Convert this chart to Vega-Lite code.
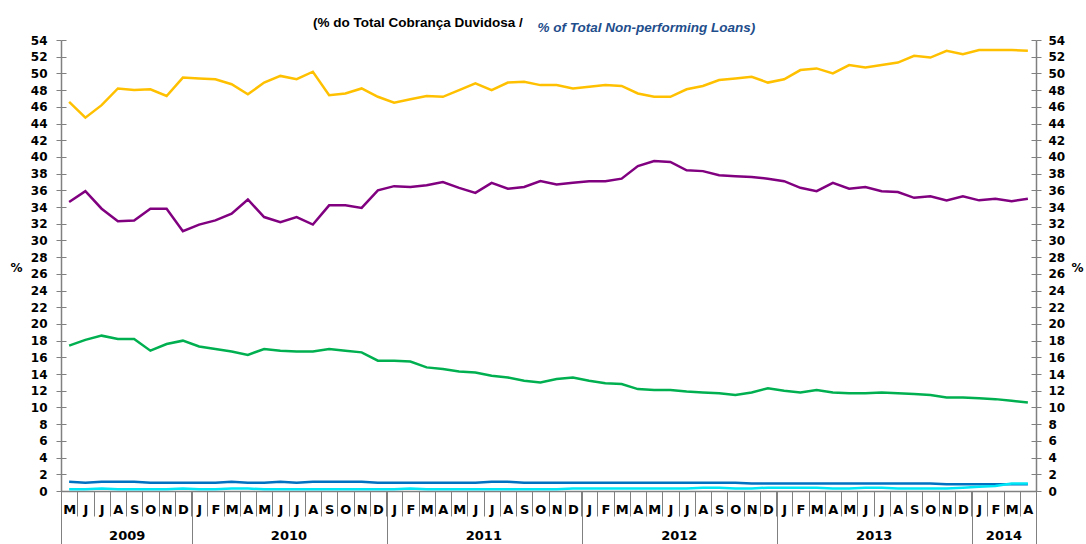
{
 "$schema": "https://vega.github.io/schema/vega-lite/v6.json",
 "width": 975,
 "height": 451,
 "autosize": "none",
 "padding": {"left": 61, "top": 40, "right": 50, "bottom": 53},
 "background": "white",
 "config": {
  "view": {"stroke": null},
  "font": "DejaVu Sans",
  "axis": {"labelFont": "DejaVu Sans", "labelFontWeight": "bold", "labelColor": "black", "domainColor": "#808080", "tickColor": "#808080", "grid": false, "titleColor": "black"}
 },
 "title": {"text": "(% do Total Cobrança Duvidosa  /", "anchor": "start", "frame": "group", "dx": 252, "offset": -9, "font": "Liberation Sans", "fontSize": 13.5, "fontWeight": "bold", "color": "black"},
 "datasets": {
  "loans": [
   {"t":"2009-05","s1":46.6,"s2":34.6,"s3":17.4,"s4":1.1,"s5":0.2},
   {"t":"2009-06","s1":44.7,"s2":35.9,"s3":18.1,"s4":1.0,"s5":0.2},
   {"t":"2009-07","s1":46.2,"s2":33.8,"s3":18.6,"s4":1.1,"s5":0.3},
   {"t":"2009-08","s1":48.2,"s2":32.3,"s3":18.2,"s4":1.1,"s5":0.2},
   {"t":"2009-09","s1":48.0,"s2":32.4,"s3":18.2,"s4":1.1,"s5":0.2},
   {"t":"2009-10","s1":48.1,"s2":33.8,"s3":16.8,"s4":1.0,"s5":0.2},
   {"t":"2009-11","s1":47.3,"s2":33.8,"s3":17.6,"s4":1.0,"s5":0.2},
   {"t":"2009-12","s1":49.5,"s2":31.1,"s3":18.0,"s4":1.0,"s5":0.3},
   {"t":"2010-01","s1":49.4,"s2":31.9,"s3":17.3,"s4":1.0,"s5":0.2},
   {"t":"2010-02","s1":49.3,"s2":32.4,"s3":17.0,"s4":1.0,"s5":0.2},
   {"t":"2010-03","s1":48.7,"s2":33.2,"s3":16.7,"s4":1.1,"s5":0.3},
   {"t":"2010-04","s1":47.5,"s2":34.9,"s3":16.3,"s4":1.0,"s5":0.3},
   {"t":"2010-05","s1":48.9,"s2":32.8,"s3":17.0,"s4":1.0,"s5":0.2},
   {"t":"2010-06","s1":49.7,"s2":32.2,"s3":16.8,"s4":1.1,"s5":0.2},
   {"t":"2010-07","s1":49.3,"s2":32.8,"s3":16.7,"s4":1.0,"s5":0.2},
   {"t":"2010-08","s1":50.2,"s2":31.9,"s3":16.7,"s4":1.1,"s5":0.2},
   {"t":"2010-09","s1":47.4,"s2":34.2,"s3":17.0,"s4":1.1,"s5":0.2},
   {"t":"2010-10","s1":47.6,"s2":34.2,"s3":16.8,"s4":1.1,"s5":0.2},
   {"t":"2010-11","s1":48.2,"s2":33.9,"s3":16.6,"s4":1.1,"s5":0.2},
   {"t":"2010-12","s1":47.2,"s2":36.0,"s3":15.6,"s4":1.0,"s5":0.2},
   {"t":"2011-01","s1":46.5,"s2":36.5,"s3":15.6,"s4":1.0,"s5":0.2},
   {"t":"2011-02","s1":46.9,"s2":36.4,"s3":15.5,"s4":1.0,"s5":0.3},
   {"t":"2011-03","s1":47.3,"s2":36.6,"s3":14.8,"s4":1.0,"s5":0.2},
   {"t":"2011-04","s1":47.2,"s2":37.0,"s3":14.6,"s4":1.0,"s5":0.2},
   {"t":"2011-05","s1":48.0,"s2":36.3,"s3":14.3,"s4":1.0,"s5":0.2},
   {"t":"2011-06","s1":48.8,"s2":35.7,"s3":14.2,"s4":1.0,"s5":0.2},
   {"t":"2011-07","s1":48.0,"s2":36.9,"s3":13.8,"s4":1.1,"s5":0.2},
   {"t":"2011-08","s1":48.9,"s2":36.2,"s3":13.6,"s4":1.1,"s5":0.2},
   {"t":"2011-09","s1":49.0,"s2":36.4,"s3":13.2,"s4":1.0,"s5":0.2},
   {"t":"2011-10","s1":48.6,"s2":37.1,"s3":13.0,"s4":1.0,"s5":0.2},
   {"t":"2011-11","s1":48.6,"s2":36.7,"s3":13.4,"s4":1.0,"s5":0.2},
   {"t":"2011-12","s1":48.2,"s2":36.9,"s3":13.6,"s4":1.0,"s5":0.3},
   {"t":"2012-01","s1":48.4,"s2":37.1,"s3":13.2,"s4":1.0,"s5":0.3},
   {"t":"2012-02","s1":48.6,"s2":37.1,"s3":12.9,"s4":1.0,"s5":0.3},
   {"t":"2012-03","s1":48.5,"s2":37.4,"s3":12.8,"s4":1.0,"s5":0.3},
   {"t":"2012-04","s1":47.6,"s2":38.9,"s3":12.2,"s4":1.0,"s5":0.3},
   {"t":"2012-05","s1":47.2,"s2":39.5,"s3":12.1,"s4":1.0,"s5":0.3},
   {"t":"2012-06","s1":47.2,"s2":39.4,"s3":12.1,"s4":1.0,"s5":0.3},
   {"t":"2012-07","s1":48.1,"s2":38.4,"s3":11.9,"s4":1.0,"s5":0.3},
   {"t":"2012-08","s1":48.5,"s2":38.3,"s3":11.8,"s4":1.0,"s5":0.4},
   {"t":"2012-09","s1":49.2,"s2":37.8,"s3":11.7,"s4":1.0,"s5":0.4},
   {"t":"2012-10","s1":49.4,"s2":37.7,"s3":11.5,"s4":1.0,"s5":0.3},
   {"t":"2012-11","s1":49.6,"s2":37.6,"s3":11.8,"s4":0.9,"s5":0.3},
   {"t":"2012-12","s1":48.9,"s2":37.4,"s3":12.3,"s4":0.9,"s5":0.4},
   {"t":"2013-01","s1":49.3,"s2":37.1,"s3":12.0,"s4":0.9,"s5":0.4},
   {"t":"2013-02","s1":50.4,"s2":36.3,"s3":11.8,"s4":0.9,"s5":0.4},
   {"t":"2013-03","s1":50.6,"s2":35.9,"s3":12.1,"s4":0.9,"s5":0.4},
   {"t":"2013-04","s1":50.0,"s2":36.9,"s3":11.8,"s4":0.9,"s5":0.3},
   {"t":"2013-05","s1":51.0,"s2":36.2,"s3":11.7,"s4":0.9,"s5":0.3},
   {"t":"2013-06","s1":50.7,"s2":36.4,"s3":11.7,"s4":0.9,"s5":0.4},
   {"t":"2013-07","s1":51.0,"s2":35.9,"s3":11.8,"s4":0.9,"s5":0.4},
   {"t":"2013-08","s1":51.3,"s2":35.8,"s3":11.7,"s4":0.9,"s5":0.3},
   {"t":"2013-09","s1":52.1,"s2":35.1,"s3":11.6,"s4":0.9,"s5":0.3},
   {"t":"2013-10","s1":51.9,"s2":35.3,"s3":11.5,"s4":0.9,"s5":0.3},
   {"t":"2013-11","s1":52.7,"s2":34.8,"s3":11.2,"s4":0.8,"s5":0.3},
   {"t":"2013-12","s1":52.3,"s2":35.3,"s3":11.2,"s4":0.8,"s5":0.4},
   {"t":"2014-01","s1":52.8,"s2":34.8,"s3":11.1,"s4":0.8,"s5":0.5},
   {"t":"2014-02","s1":52.8,"s2":35.0,"s3":11.0,"s4":0.8,"s5":0.6},
   {"t":"2014-03","s1":52.8,"s2":34.7,"s3":10.8,"s4":0.8,"s5":0.9},
   {"t":"2014-04","s1":52.7,"s2":35.0,"s3":10.6,"s4":0.8,"s5":0.9}
  ],
  "years": [
   {"year":"2009","start":"2009-05-01"},
   {"year":"2010","start":"2010-01-01"},
   {"year":"2011","start":"2011-01-01"},
   {"year":"2012","start":"2012-01-01"},
   {"year":"2013","start":"2013-01-01"},
   {"year":"2014","start":"2014-01-01"}
  ]
 },
 "layer": [
  {
   "data": {"name": "loans"},
   "transform": [{"fold": ["s1","s2","s3","s4","s5"], "as": ["series","value"]}],
   "mark": {"type": "line", "strokeWidth": 2.5},
   "encoding": {
    "x": {"field": "t", "type": "ordinal", "sort": null,
     "scale": {"type": "band", "paddingInner": 0, "paddingOuter": 0},
     "axis": {"orient": "bottom", "title": null, "labelAngle": 0,
      "labelExpr": "substring('JFMAMJJASOND', toNumber(substring(datum.value,5,7))-1, toNumber(substring(datum.value,5,7)))",
      "tickBand": "extent", "tickSize": 25, "tickWidth": 1, "labelPadding": -13, "labelFontSize": 13,
      "domainWidth": 1.5, "labelOverlap": false, "labelBound": false}},
    "y": {"field": "value", "type": "quantitative",
     "scale": {"domain": [0, 54], "nice": false, "zero": true},
     "axis": {"orient": "left", "values": [0,2,4,6,8,10,12,14,16,18,20,22,24,26,28,30,32,34,36,38,40,42,44,46,48,50,52,54],
      "title": "%", "titleAngle": 0, "titleX": -45, "titleY": 227, "titleAlign": "center", "titleBaseline": "middle",
      "titleFontWeight": "bold", "titleFontSize": 12, "titleFont": "DejaVu Sans",
      "tickSize": 5, "labelPadding": 9, "labelFontSize": 12, "domainWidth": 1.5}},
    "color": {"field": "series", "type": "nominal",
     "scale": {"domain": ["s1","s2","s3","s4","s5"], "range": ["#FFC000","#800080","#00B050","#0070C0","#00E8F8"]},
     "legend": null}
   }
  },
  {
   "data": {"name": "years"},
   "mark": {"type": "point", "opacity": 0},
   "encoding": {
    "x": {"field": "start", "type": "temporal",
     "scale": {"type": "utc", "nice": false, "domain": [{"year":2009,"month":5,"date":1,"utc":true},{"year":2014,"month":5,"date":1,"utc":true}]},
     "axis": {"orient": "bottom", "title": null, "labels": false, "domain": false, "tickSize": 53, "tickWidth": 1,
      "values": [{"year":2009,"month":5,"date":1,"utc":true},{"year":2010,"month":1,"date":1,"utc":true},{"year":2011,"month":1,"date":1,"utc":true},{"year":2012,"month":1,"date":1,"utc":true},{"year":2013,"month":1,"date":1,"utc":true},{"year":2014,"month":1,"date":1,"utc":true},{"year":2014,"month":5,"date":1,"utc":true}]}},
    "y": {"datum": 0, "type": "quantitative",
     "scale": {"domain": [0, 54], "nice": false},
     "axis": {"orient": "right", "values": [0,2,4,6,8,10,12,14,16,18,20,22,24,26,28,30,32,34,36,38,40,42,44,46,48,50,52,54],
      "title": "%", "titleAngle": 0, "titleX": 41, "titleY": 227, "titleAlign": "center", "titleBaseline": "middle",
      "titleFontWeight": "bold", "titleFontSize": 12, "titleFont": "DejaVu Sans",
      "tickSize": 5, "labelPadding": 7, "labelFontSize": 12, "domainWidth": 1.5}}
   }
  },
  {
   "data": {"name": "years"},
   "mark": {"type": "point", "opacity": 0},
   "encoding": {
    "x": {"field": "start", "type": "temporal",
     "scale": {"type": "utc", "nice": false, "domain": [{"year":2009,"month":5,"date":1,"utc":true},{"year":2014,"month":5,"date":1,"utc":true}]},
     "axis": {"orient": "bottom", "title": null, "ticks": false, "tickSize": 0, "domain": false, "format": "%Y",
      "labelPadding": 38, "labelFontSize": 13, "labelFlush": false, "labelOverlap": false,
      "values": [{"year":2009,"month":9,"date":1,"utc":true},{"year":2010,"month":7,"date":1,"utc":true},{"year":2011,"month":7,"date":1,"utc":true},{"year":2012,"month":7,"date":1,"utc":true},{"year":2013,"month":7,"date":1,"utc":true},{"year":2014,"month":3,"date":1,"utc":true}]}},
    "y": {"datum": 0, "type": "quantitative",
     "scale": {"domain": [0, 54], "nice": false},
     "axis": {"orient": "left", "values": [0,2,4,6,8,10,12,14,16,18,20,22,24,26,28,30,32,34,36,38,40,42,44,46,48,50,52,54],
      "title": null, "labels": false, "domain": false, "tickSize": -5}}
   }
  },
  {
   "data": {"name": "years"},
   "mark": {"type": "point", "opacity": 0},
   "encoding": {
    "x": {"field": "start", "type": "temporal",
     "scale": {"type": "utc", "nice": false, "domain": [{"year":2009,"month":5,"date":1,"utc":true},{"year":2014,"month":5,"date":1,"utc":true}]},
     "axis": {"orient": "top", "title": "% of Total Non-performing Loans)", "labels": false, "ticks": false, "domain": false,
      "titleColor": "#1F4E8C", "titleFontStyle": "italic", "titleFontWeight": "bold", "titleFont": "Liberation Sans", "titleFontSize": 13.5,
      "titleAnchor": "start", "titleAlign": "left", "titleX": 476, "titleY": -13, "titleBaseline": "middle"}},
    "y": {"datum": 0, "type": "quantitative",
     "scale": {"domain": [0, 54], "nice": false},
     "axis": {"orient": "right", "values": [0,2,4,6,8,10,12,14,16,18,20,22,24,26,28,30,32,34,36,38,40,42,44,46,48,50,52,54],
      "title": null, "labels": false, "domain": false, "tickSize": -5}}
   }
  }
 ],
 "resolve": {"scale": {"x": "independent", "y": "independent"}, "axis": {"x": "independent", "y": "independent"}}
}
